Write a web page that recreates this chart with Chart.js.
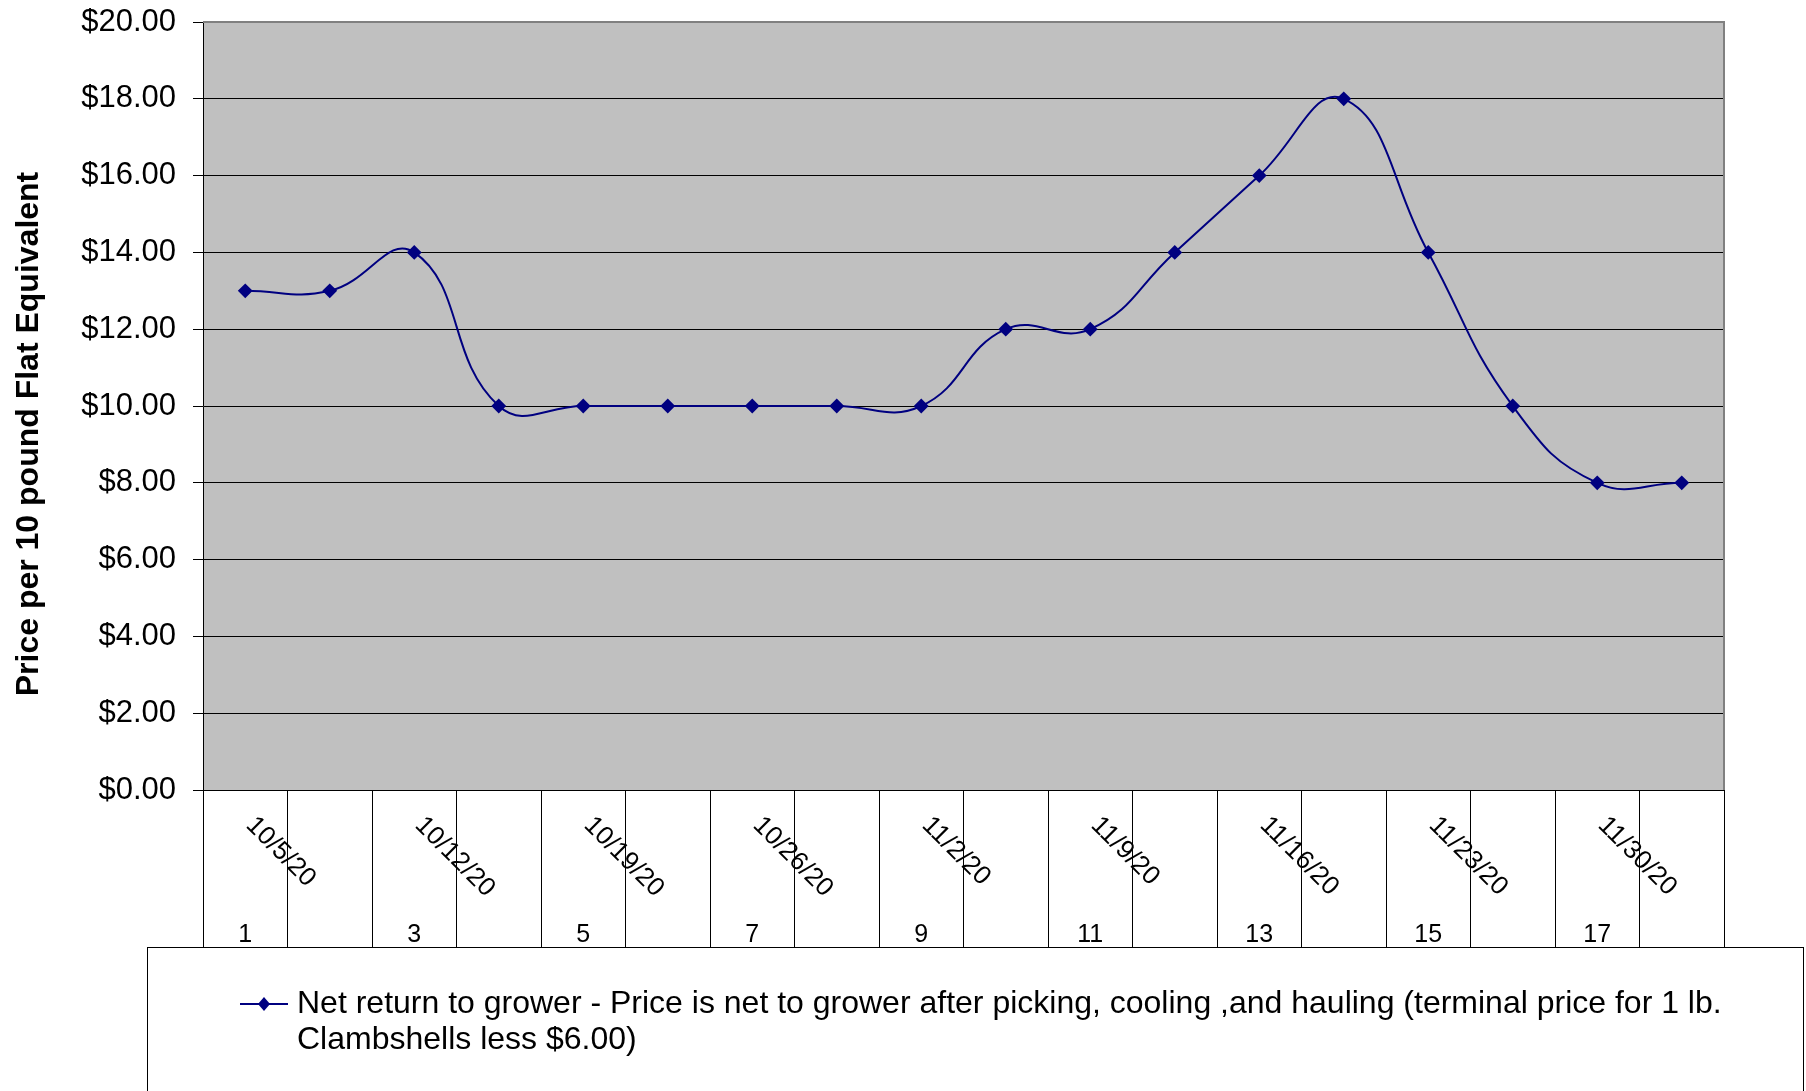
<!DOCTYPE html>
<html>
<head>
<meta charset="utf-8">
<script src="https://cdn.jsdelivr.net/npm/chart.js@4"></script>
<style>
  html, body { margin: 0; padding: 0; background: #fff; }
  canvas { display: block; }
</style>
</head>
<body>
<canvas id="chart" width="1806" height="1091"></canvas>
<script>
// chart data
const categories = ['1', '2', '3', '4', '5', '6', '7', '8', '9', '10', '11', '12', '13', '14', '15', '16', '17', '18'];
const dateLabels = ['10/5/20', '', '10/12/20', '', '10/19/20', '', '10/26/20', '', '11/2/20', '', '11/9/20', '', '11/16/20', '', '11/23/20', '', '11/30/20', ''];
const numberLabels = ['1', '', '3', '', '5', '', '7', '', '9', '', '11', '', '13', '', '15', '', '17', ''];
const netReturn = [13, 13, 14, 10, 10, 10, 10, 10, 10, 12, 12, 14, 16, 18, 14, 10, 8, 8];
const seriesName = 'Net return to grower - Price is net to grower after picking, cooling ,and hauling (terminal price for 1 lb.';
const seriesName2 = 'Clambshells less $6.00)';
const yTitle = 'Price per 10 pound Flat Equivalent';

const FONT = '"Liberation Sans", Arial, sans-serif';
const NAVY = '#000080';

const decor = {
    id: 'decor',
    beforeDraw(chart) {
        const { ctx, chartArea: a } = chart;
        ctx.save();
        ctx.fillStyle = '#C0C0C0';
        ctx.fillRect(a.left, a.top, a.right - a.left, a.bottom - a.top);
        ctx.restore();
    },
    afterDraw(chart) {
        const { ctx, chartArea: a } = chart;
        const x = chart.scales.x;
        ctx.save();

        // plot border top/right
        ctx.strokeStyle = '#808080';
        ctx.lineWidth = 2;
        ctx.beginPath();
        ctx.moveTo(a.left, a.top);
        ctx.lineTo(a.right, a.top);
        ctx.lineTo(a.right, a.bottom);
        ctx.stroke();

        // date labels, rotated
        ctx.fillStyle = '#000';
        ctx.font = '26px ' + FONT;
        dateLabels.forEach((d, i) => {
            if (!d) return;
            const cx = x.getPixelForValue(i);
            ctx.save();
            ctx.translate(cx + 14, 812);
            ctx.rotate(Math.PI / 4);
            ctx.textAlign = 'left';
            ctx.textBaseline = 'top';
            ctx.fillText(d, 0, 0);
            ctx.restore();
        });

        // index labels
        ctx.font = '25px ' + FONT;
        ctx.textAlign = 'center';
        ctx.textBaseline = 'alphabetic';
        numberLabels.forEach((n, i) => {
            if (!n) return;
            ctx.fillText(n, x.getPixelForValue(i), 942);
        });

        // y axis title
        ctx.save();
        ctx.translate(29, 434);
        ctx.rotate(-Math.PI / 2);
        ctx.font = 'bold 32px ' + FONT;
        ctx.textAlign = 'center';
        ctx.textBaseline = 'middle';
        ctx.fillText(yTitle, 0, 0);
        ctx.restore();

        // legend box
        ctx.strokeStyle = '#000';
        ctx.lineWidth = 1;
        ctx.strokeRect(147.5, 947.5, 1656, 160);
        ctx.strokeStyle = NAVY;
        ctx.lineWidth = 2;
        ctx.beginPath();
        ctx.moveTo(240, 1004);
        ctx.lineTo(288, 1004);
        ctx.stroke();
        ctx.fillStyle = NAVY;
        ctx.beginPath();
        ctx.moveTo(264, 997);
        ctx.lineTo(270, 1004);
        ctx.lineTo(264, 1011);
        ctx.lineTo(258, 1004);
        ctx.closePath();
        ctx.fill();
        ctx.fillStyle = '#000';
        ctx.font = '32px ' + FONT;
        ctx.textAlign = 'left';
        ctx.textBaseline = 'middle';
        ctx.fillText(seriesName, 297, 1004);
        ctx.fillText(seriesName2, 297, 1040);

        ctx.restore();
    }
};

new Chart(document.getElementById('chart'), {
    type: 'line',
    data: {
        labels: categories,
        datasets: [{
            label: seriesName,
            data: netReturn,
            borderColor: NAVY,
            backgroundColor: NAVY,
            borderWidth: 2,
            tension: 0.45,
            pointStyle: 'rectRot',
            pointRadius: 6,
            pointHoverRadius: 6,
            fill: false
        }]
    },
    options: {
        responsive: false,
        animation: false,
        events: [],
        layout: { padding: { top: 22, right: 82, left: 0, bottom: 0 } },
        plugins: {
            legend: { display: false },
            tooltip: { enabled: false }
        },
        scales: {
            x: {
                offset: true,
                afterFit(scale) { scale.height = 301; },
                ticks: { display: false },
                grid: {
                    offset: true,
                    drawOnChartArea: false,
                    drawTicks: true,
                    tickLength: 157,
                    color: '#000'
                },
                border: { color: '#000', width: 1 }
            },
            y: {
                min: 0,
                max: 20,
                afterFit(scale) {
                    scale.width = 203;
                    scale.paddingTop = 0;
                    scale.paddingBottom = 0;
                },
                ticks: {
                    stepSize: 2,
                    padding: 17,
                    color: '#000',
                    font: { family: FONT, size: 31 },
                    callback: v => '$' + v.toFixed(2)
                },
                grid: {
                    tickLength: 10,
                    color: ctx => ctx.tick && ctx.tick.value === 20 ? '#808080' : '#000',
                    tickColor: '#000'
                },
                border: { color: '#000', width: 1 }
            }
        }
    },
    plugins: [decor]
});
</script>
</body>
</html>
